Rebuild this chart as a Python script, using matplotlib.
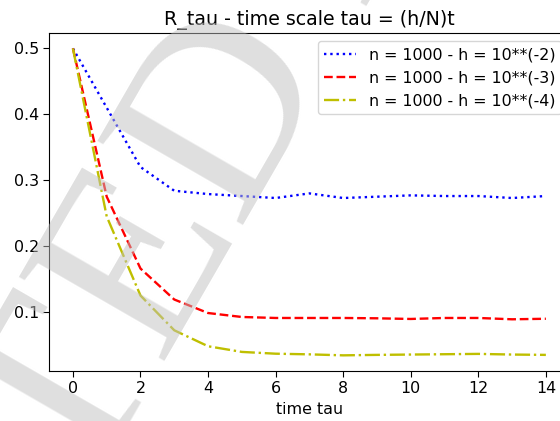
import matplotlib
matplotlib.use("Agg")
import matplotlib.pyplot as plt

tau = list(range(15))

r_h2 = [0.5, 0.41, 0.32, 0.284, 0.279, 0.276, 0.273, 0.280, 0.273,
        0.275, 0.277, 0.276, 0.276, 0.273, 0.276]
r_h3 = [0.5, 0.275, 0.166, 0.119, 0.0985, 0.0925, 0.091, 0.091, 0.091,
        0.0905, 0.0895, 0.091, 0.091, 0.089, 0.0898]
r_h4 = [0.5, 0.245, 0.125, 0.0723, 0.0481, 0.0395, 0.0368, 0.0358, 0.0343,
        0.035, 0.0355, 0.036, 0.0365, 0.0355, 0.035]

labels = ["n = 1000 - h = 10**(-2)",
          "n = 1000 - h = 10**(-3)",
          "n = 1000 - h = 10**(-4)"]

plt.rcParams["font.size"] = 11.4
plt.rcParams["lines.linewidth"] = 1.7
plt.rcParams["xtick.major.size"] = 4
plt.rcParams["ytick.major.size"] = 4

fig = plt.figure(figsize=(5.6, 4.21), dpi=100)
# axes run a little past the right edge, as in the cropped original
ax = fig.add_axes([0.088, 0.1195, 0.929, 0.802])

ax.plot(tau, r_h2, "b:", label=labels[0])
ax.plot(tau, r_h3, "r--", label=labels[1])
ax.plot(tau, r_h4, "y-.", label=labels[2])

ax.set_title("R_tau - time scale tau = (h/N)t")
ax.set_xlabel("time tau", labelpad=4)
ax.legend(loc="upper right")

# light watermark laid over the plot
wm = dict(fontsize=185, family="Liberation Serif", color="0.75", alpha=0.5,
          rotation=60, rotation_mode="anchor", va="baseline", zorder=10)
fig.text(0.592, 0.84, "ACCEPTED", ha="right", **wm)
fig.text(0.592, 0.84, " MANUSCRIPT", ha="left", **wm)

fig.savefig("out.png", dpi=100)
